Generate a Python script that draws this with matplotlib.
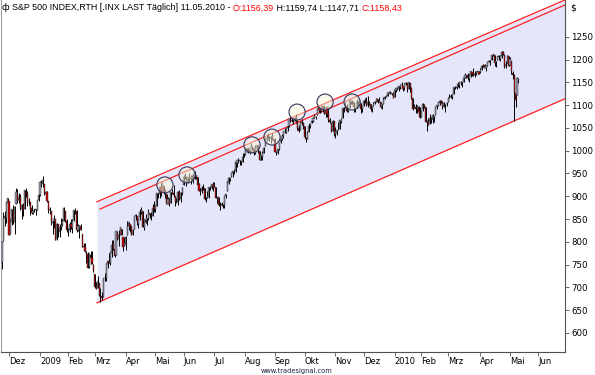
import pandas as pd
import matplotlib
matplotlib.use('Agg')
from matplotlib import pyplot as plt
from matplotlib.patches import Ellipse

# daily S&P 500 candles, 21.11.2008 .. 11.05.2010
first_day = '2008-11-21'
holidays = ['2008-11-27', '2008-12-25', '2009-01-01', '2009-01-19', '2009-02-16',
            '2009-04-10', '2009-05-25', '2009-07-03', '2009-09-07', '2009-11-26',
            '2009-12-25', '2010-01-01', '2010-01-18', '2010-02-15', '2010-04-02',
            '2010-05-31']

opens = [
    755, 801, 853, 852, 886,
    889, 817, 844, 869, 844, 882, 906, 892, 898, 871, 881, 871, 909, 905, 887, 887, 874, 863, 869, 872, 870, 891,
    903, 930, 928, 927, 905, 910, 890, 870, 868, 841, 845, 849, 807, 839, 822, 832, 837, 846, 868, 845,
    823, 826, 838, 831, 847, 868, 867, 827, 830, 834, 818, 791, 788, 775, 773, 744, 770, 765, 749,
    730, 704, 698, 709, 684, 680, 679, 720, 720, 751, 758, 753, 776, 797, 785, 772, 820, 806, 815, 829, 810, 790,
    793, 814, 835, 840, 834, 817, 829, 856, 856, 839, 854, 865, 868, 831, 848, 845, 853, 863, 854, 856, 876,
    872, 879, 907, 904, 920, 910, 923, 911, 905, 884, 892, 886, 909, 908, 901, 889, 887, 910, 893, 907,
    924, 942, 942, 932, 945, 939, 941, 943, 940, 943, 942, 926, 912, 911, 920, 919, 894, 897, 899, 918, 919, 927,
    920, 921, 895, 898, 881, 881, 881, 880, 901, 911, 930, 940, 943, 952, 953, 955, 973, 979, 978, 977, 976, 986,
    990, 1001, 1006, 1004, 999, 1008, 1006, 995, 1006, 1012, 999, 980, 986, 996, 1010, 1027, 1026, 1028, 1027, 1032, 1026,
    1019, 996, 996, 1003, 1019, 1025, 1033, 1044, 1040, 1049, 1054, 1067, 1066, 1067, 1066, 1072, 1062, 1050, 1045, 1063, 1061,
    1055, 1029, 1026, 1042, 1054, 1060, 1066, 1072, 1074, 1079, 1090, 1094, 1088, 1098, 1092, 1080, 1095, 1081, 1068, 1061, 1044, 1065,
    1037, 1040, 1047, 1048, 1064, 1072, 1092, 1096, 1099, 1088, 1094, 1108, 1109, 1107, 1094, 1094, 1106, 1107, 1105, 1091,
    1098, 1109, 1110, 1101, 1105, 1103, 1092, 1099, 1104, 1107, 1114, 1108, 1107, 1097, 1103, 1114, 1118, 1121, 1127, 1129, 1125, 1127,
    1117, 1133, 1136, 1136, 1141, 1146, 1143, 1137, 1146, 1148, 1136, 1148, 1138, 1115, 1093, 1095, 1092, 1097, 1088,
    1074, 1091, 1101, 1097, 1064, 1066, 1060, 1069, 1067, 1075, 1079, 1096, 1099, 1105, 1110, 1107, 1095, 1101, 1104,
    1106, 1117, 1119, 1119, 1125, 1139, 1137, 1141, 1144, 1152, 1148, 1151, 1160, 1166, 1166, 1157, 1166, 1172, 1170, 1168, 1168, 1174, 1172,
    1172, 1179, 1187, 1189, 1182, 1187, 1195, 1196, 1199, 1210, 1210, 1192, 1199, 1207, 1202, 1208, 1217, 1211, 1185, 1193, 1207,
    1188, 1198, 1170, 1164, 1127, 1123, 1156,
]
highs = [
    801, 865, 868, 888, 896,
    889, 850, 873, 881, 879, 918, 916, 908, 905, 883, 885, 914, 918, 911, 897, 888, 881, 870, 872, 873, 891, 911,
    934, 936, 944, 927, 911, 911, 890, 877, 868, 851, 858, 849, 841, 839, 839, 852, 850, 877, 868, 851,
    830, 843, 851, 850, 870, 875, 869, 838, 836, 840, 818, 797, 797, 779, 777, 775, 780, 779, 752,
    730, 712, 724, 709, 699, 689, 720, 732, 753, 758, 775, 778, 803, 803, 788, 823, 823, 826, 833, 829, 810, 810,
    813, 845, 843, 840, 834, 829, 857, 862, 857, 853, 871, 876, 868, 851, 862, 852, 872, 864, 865, 882, 889,
    880, 907, 908, 920, 930, 931, 923, 915, 905, 898, 897, 910, 917, 925, 901, 896, 911, 913, 909, 920,
    947, 950, 942, 942, 951, 946, 947, 950, 956, 947, 942, 929, 919, 922, 927, 919, 898, 911, 921, 922, 928, 931,
    932, 921, 898, 898, 887, 887, 884, 901, 905, 933, 943, 941, 952, 956, 960, 979, 980, 983, 980, 977, 996, 994,
    1003, 1006, 1006, 1009, 1018, 1010, 1006, 1013, 1013, 1012, 999, 991, 999, 1008, 1027, 1035, 1038, 1033, 1032, 1039, 1026,
    1029, 1000, 1003, 1017, 1026, 1037, 1044, 1049, 1049, 1056, 1068, 1074, 1071, 1067, 1073, 1081, 1067, 1056, 1065, 1070, 1063,
    1055, 1031, 1043, 1060, 1058, 1071, 1073, 1081, 1076, 1093, 1097, 1094, 1099, 1099, 1101, 1095, 1095, 1095, 1072, 1061, 1068, 1066,
    1053, 1046, 1062, 1067, 1072, 1094, 1096, 1106, 1102, 1097, 1114, 1110, 1111, 1107, 1094, 1113, 1109, 1113, 1105, 1098,
    1112, 1115, 1118, 1120, 1110, 1103, 1098, 1106, 1109, 1115, 1114, 1117, 1107, 1103, 1117, 1120, 1122, 1127, 1130, 1131, 1127, 1128,
    1134, 1137, 1140, 1143, 1146, 1150, 1143, 1148, 1150, 1148, 1150, 1148, 1141, 1115, 1103, 1103, 1100, 1099, 1097,
    1090, 1104, 1103, 1097, 1067, 1071, 1080, 1073, 1080, 1077, 1095, 1100, 1108, 1112, 1112, 1109, 1108, 1103, 1108,
    1117, 1124, 1125, 1124, 1140, 1142, 1146, 1151, 1151, 1154, 1151, 1161, 1170, 1167, 1170, 1168, 1175, 1173, 1181, 1174, 1174, 1176, 1174,
    1182, 1188, 1191, 1190, 1188, 1195, 1199, 1200, 1211, 1213, 1211, 1198, 1208, 1210, 1211, 1218, 1220, 1212, 1196, 1210, 1208,
    1206, 1198, 1175, 1168, 1136, 1163, 1160,
]
lows = [
    741, 801, 834, 841, 881,
    815, 817, 837, 840, 818, 882, 885, 886, 869, 851, 856, 871, 898, 878, 881, 858, 860, 861, 866, 858, 870, 889,
    900, 920, 920, 902, 897, 887, 864, 862, 837, 818, 831, 804, 805, 811, 811, 827, 835, 846, 844, 821,
    812, 821, 829, 819, 846, 861, 822, 823, 808, 826, 789, 780, 777, 754, 743, 742, 752, 751, 734,
    699, 696, 698, 680, 667, 672, 679, 714, 714, 742, 753, 749, 766, 781, 766, 772, 805, 791, 815, 814, 780, 790,
    783, 814, 826, 822, 814, 815, 829, 848, 837, 830, 848, 860, 832, 827, 841, 836, 847, 852, 848, 856, 866,
    866, 879, 897, 896, 901, 909, 905, 896, 882, 882, 878, 886, 905, 899, 879, 885, 881, 891, 888, 903,
    924, 939, 923, 929, 934, 927, 936, 929, 939, 937, 919, 911, 902, 908, 914, 892, 888, 897, 896, 914, 916, 912,
    920, 896, 886, 879, 869, 878, 875, 875, 896, 911, 928, 934, 943, 943, 948, 953, 965, 973, 969, 968, 976, 986,
    990, 998, 994, 992, 999, 1001, 991, 993, 1004, 995, 979, 980, 980, 994, 1010, 1022, 1026, 1022, 1017, 1023, 1015,
    997, 991, 992, 1001, 1018, 1023, 1029, 1039, 1038, 1043, 1052, 1062, 1064, 1058, 1066, 1060, 1045, 1041, 1045, 1057, 1047,
    1029, 1020, 1026, 1042, 1051, 1060, 1063, 1072, 1069, 1079, 1086, 1082, 1086, 1086, 1080, 1075, 1075, 1063, 1060, 1042, 1044, 1033,
    1029, 1034, 1045, 1048, 1060, 1072, 1086, 1094, 1086, 1085, 1094, 1102, 1103, 1086, 1086, 1094, 1097, 1106, 1083, 1086,
    1098, 1105, 1099, 1096, 1100, 1088, 1085, 1098, 1102, 1107, 1105, 1107, 1094, 1092, 1103, 1114, 1117, 1121, 1126, 1125, 1122, 1115,
    1117, 1130, 1134, 1131, 1136, 1141, 1131, 1134, 1144, 1129, 1136, 1129, 1114, 1090, 1093, 1082, 1083, 1074, 1072,
    1074, 1087, 1094, 1063, 1044, 1056, 1058, 1061, 1061, 1063, 1079, 1092, 1098, 1100, 1104, 1091, 1095, 1086, 1098,
    1106, 1116, 1116, 1113, 1125, 1136, 1135, 1139, 1138, 1145, 1141, 1150, 1160, 1160, 1155, 1152, 1162, 1165, 1165, 1163, 1167, 1168, 1169,
    1171, 1178, 1183, 1181, 1176, 1186, 1194, 1188, 1199, 1208, 1187, 1184, 1199, 1199, 1196, 1204, 1211, 1182, 1182, 1193, 1186,
    1188, 1168, 1158, 1066, 1095, 1123, 1148,
]
closes = [
    800, 852, 857, 888, 896,
    816, 849, 871, 845, 876, 910, 889, 899, 874, 880, 869, 913, 904, 885, 888, 872, 863, 868, 873, 869, 891, 903,
    932, 927, 935, 907, 910, 890, 870, 872, 843, 844, 850, 805, 840, 828, 832, 837, 846, 874, 845, 826,
    825, 839, 832, 846, 869, 870, 827, 834, 835, 827, 789, 788, 779, 770, 743, 773, 765, 753, 735,
    701, 696, 713, 683, 683, 677, 720, 721, 751, 757, 754, 778, 794, 784, 769, 823, 806, 814, 833, 816, 788, 798,
    811, 834, 843, 835, 816, 825, 857, 859, 842, 852, 865, 870, 832, 850, 844, 852, 866, 858, 855, 874, 873,
    878, 907, 904, 920, 907, 929, 909, 908, 884, 893, 883, 910, 908, 903, 888, 887, 910, 893, 907, 919,
    943, 945, 932, 942, 940, 939, 942, 939, 945, 946, 924, 912, 911, 918, 921, 893, 895, 901, 920, 919, 927, 919,
    923, 896, 899, 881, 880, 883, 879, 901, 906, 933, 941, 940, 951, 955, 954, 976, 979, 982, 980, 975, 987, 987,
    1003, 1006, 1003, 997, 1010, 1007, 994, 1006, 1013, 1004, 980, 990, 996, 1007, 1026, 1026, 1028, 1028, 1031, 1029, 1021,
    998, 995, 1003, 1016, 1025, 1033, 1044, 1043, 1049, 1053, 1069, 1065, 1068, 1065, 1072, 1061, 1051, 1044, 1063, 1061, 1057,
    1030, 1025, 1040, 1055, 1058, 1065, 1071, 1076, 1073, 1092, 1097, 1088, 1098, 1091, 1081, 1093, 1080, 1067, 1063, 1043, 1066, 1036,
    1043, 1045, 1047, 1067, 1069, 1093, 1093, 1099, 1087, 1093, 1109, 1110, 1110, 1095, 1091, 1106, 1106, 1111, 1091, 1096,
    1109, 1109, 1100, 1106, 1103, 1092, 1096, 1102, 1106, 1114, 1108, 1109, 1096, 1102, 1114, 1118, 1121, 1126, 1128, 1126, 1126, 1115,
    1133, 1137, 1137, 1142, 1145, 1147, 1136, 1146, 1148, 1136, 1150, 1138, 1116, 1092, 1097, 1092, 1098, 1085, 1074,
    1089, 1103, 1097, 1063, 1066, 1057, 1071, 1068, 1078, 1076, 1095, 1100, 1107, 1109, 1108, 1095, 1105, 1103, 1104,
    1116, 1118, 1119, 1123, 1139, 1139, 1140, 1146, 1150, 1150, 1151, 1159, 1166, 1166, 1160, 1166, 1174, 1168, 1166, 1167, 1173, 1173, 1169,
    1178, 1187, 1189, 1182, 1186, 1194, 1196, 1197, 1211, 1212, 1192, 1198, 1207, 1206, 1209, 1217, 1212, 1184, 1191, 1207, 1187,
    1202, 1174, 1166, 1128, 1111, 1160, 1158,
]

# trend channel (start/end, x in trading days)
chan_x = [67.5, 400.0]
chan_low = [666, 1114]
chan_high = [888, 1331]
inner_x = [69.7, 400.0]
inner_high = [872, 1320]

# marked touches of the inner line
touch_x = [115.8, 131.5, 177.7, 191.9, 209.7, 229.6, 248.8]
touch_y = [925, 947, 1013, 1030, 1085, 1107, 1107]

tick_dates = ['2008-12-01', '2009-01-02', '2009-02-02', '2009-03-02', '2009-04-01', '2009-05-01',
              '2009-06-01', '2009-07-01', '2009-08-03', '2009-09-01', '2009-10-01', '2009-11-02',
              '2009-12-01', '2010-01-04', '2010-02-01', '2010-03-01', '2010-04-01', '2010-05-03',
              '2010-06-01']
tick_names = ['Dez', '2009', 'Feb', 'Mrz', 'Apr', 'Mai', 'Jun', 'Jul', 'Aug', 'Sep', 'Okt',
              'Nov', 'Dez', '2010', 'Feb', 'Mrz', 'Apr', 'Mai', 'Jun']
price_ticks = list(range(600, 1251, 50))

title_parts = [('S&P 500 INDEX,RTH [.INX LAST Täglich] 11.05.2010 - ', 'black'),
               ('O:1156,39', 'red'),
               (' H:1159,74 L:1147,71 ', 'black'),
               ('C:1158,43', 'red')]

days = pd.bdate_range(first_day, '2010-06-30')
days = days[~days.isin(pd.to_datetime(holidays))]
tick_pos = [days.searchsorted(pd.Timestamp(d)) for d in tick_dates]

plt.rcParams['font.family'] = ['DejaVu Sans']
fig = plt.figure(figsize=(5.95, 3.75), dpi=100)
ax = fig.add_axes([1 / 595, 23 / 375, 564 / 595, 352 / 375])

ax.fill_between(chan_x, chan_low, chan_high, color='#e6e6fa', lw=0, zorder=0)
ax.plot(chan_x, chan_low, color='#ff2020', lw=0.9, zorder=1)
ax.plot(chan_x, chan_high, color='#ff2020', lw=0.9, zorder=1)
ax.plot(inner_x, inner_high, color='#ff2020', lw=0.9, zorder=1)

idx = list(range(len(closes)))
ax.vlines(idx, lows, highs, color='black', lw=0.7, zorder=2)
bottoms = [min(o, c) for o, c in zip(opens, closes)]
heights = [max(abs(c - o), 0.8) for o, c in zip(opens, closes)]
cols = ['#9c9cb4' if c >= o else '#d00000' for o, c in zip(opens, closes)]
ax.bar(idx, heights, bottom=bottoms, width=0.8, color=cols, edgecolor='#202020',
       linewidth=0.3, zorder=3)

for tx, ty in zip(touch_x, touch_y):
    ax.add_patch(Ellipse((tx, ty), 11.5, 35, facecolor=(0.97, 0.96, 0.85, 0.5),
                         edgecolor='#34345a', lw=0.8, zorder=4))

ax.set_xlim(-0.7, 400.1)
ax.set_ylim(558, 1331)
ax.yaxis.tick_right()
ax.set_yticks(price_ticks)
ax.set_yticklabels([str(v) for v in price_ticks])
ax.set_xticks(tick_pos)
ax.set_xticklabels(tick_names, ha='left')
ax.tick_params(axis='both', labelsize=6.2, length=3, width=0.6, color='#555555', pad=1.5)
ax.tick_params(axis='x', labelsize=6.0, pad=0.5)
ax.spines['top'].set_visible(False)
ax.spines['left'].set_color('#a0a0a0')
ax.spines['right'].set_color('#505050')
ax.spines['bottom'].set_color('#505050')

fig.text(570 / 595, 1 - 8 / 375, '$', fontsize=6.5, va='center')
fig.text(297 / 595, 1 - 370.5 / 375, 'www.tradesignal.com', fontsize=4.8, ha='center',
         va='center', color='#202040')

fig.canvas.draw()
r = fig.canvas.get_renderer()
fig.text(2 / 595, 1 - 8 / 375, 'ф', fontsize=6.5, va='center')
xpos = 12
for s, c in title_parts:
    t = fig.text(xpos / 595, 1 - 8 / 375, s, color=c, fontsize=6.4, va='center',
                 family='Liberation Sans')
    xpos = t.get_window_extent(renderer=r).x1

fig.savefig('out.png', dpi=100)
